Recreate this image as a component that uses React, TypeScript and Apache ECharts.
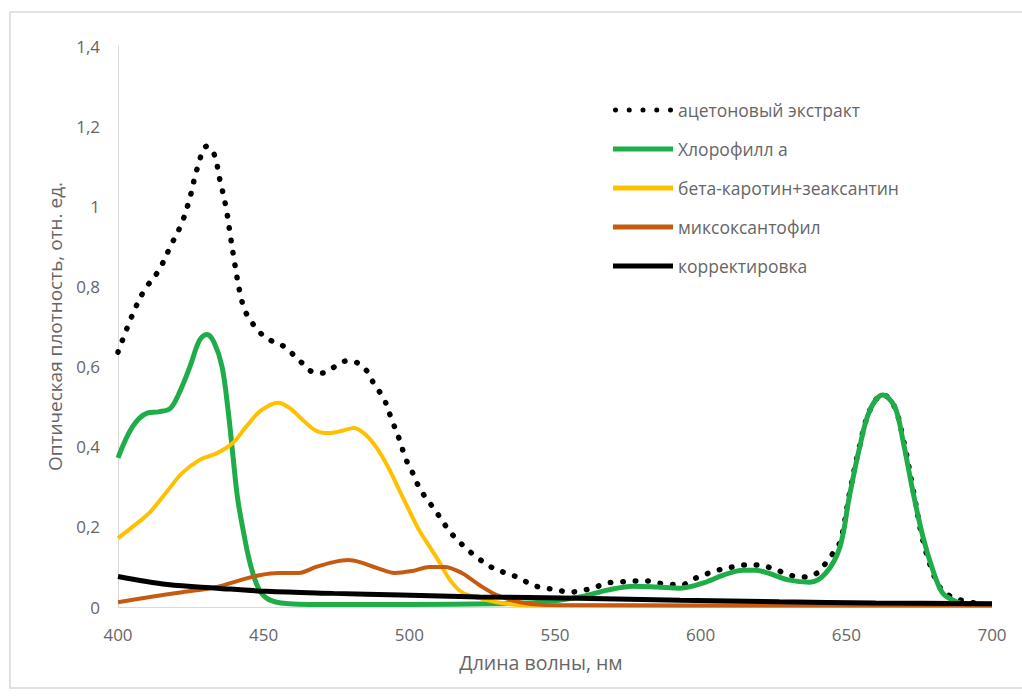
import React, { useEffect, useRef } from "react";
import * as echarts from "echarts";

const seriesNames = [
  "ацетоновый экстракт",
  "Хлорофилл а",
  "бета-каротин+зеаксантин",
  "миксоксантофил",
  "корректировка",
];

const xTitle = "Длина волны, нм";
const yTitle = "Оптическая плотность, отн. ед.";

const extractX = [400, 405, 409, 414, 418, 422, 425, 427, 430.5, 433, 435, 437, 438.5, 440, 442, 444, 449, 453, 457, 463, 467, 470, 474.5, 478.5, 482, 486, 488, 491, 494, 497, 498.5, 501, 503, 505.5, 508, 510.5, 513, 515.5, 519, 523, 528, 533, 538, 542, 547, 551, 555, 560, 564, 568, 572, 577, 581.5, 585, 589, 593.5, 597, 601, 606, 611, 614.5, 619, 623, 628, 632, 636, 640, 643, 645.5, 648, 651, 654.5, 658, 662.5, 666.5, 669.5, 673, 676, 679, 682, 685, 688, 691, 694];
const extractY = [0.636, 0.73, 0.79, 0.84, 0.9, 0.96, 1.03, 1.09, 1.15, 1.13, 1.065, 1.0, 0.93, 0.86, 0.78, 0.733, 0.683, 0.663, 0.65, 0.61, 0.586, 0.584, 0.6, 0.614, 0.61, 0.584, 0.554, 0.524, 0.467, 0.41, 0.374, 0.337, 0.304, 0.274, 0.25, 0.224, 0.197, 0.175, 0.15, 0.125, 0.1, 0.085, 0.072, 0.055, 0.047, 0.042, 0.037, 0.042, 0.05, 0.06, 0.062, 0.065, 0.065, 0.06, 0.057, 0.055, 0.068, 0.08, 0.092, 0.1, 0.105, 0.105, 0.1, 0.087, 0.077, 0.075, 0.085, 0.11, 0.135, 0.165, 0.28, 0.4, 0.49, 0.53, 0.5, 0.42, 0.29, 0.175, 0.1, 0.05, 0.03, 0.02, 0.014, 0.01];

const chlX = [400, 405, 410, 414, 418, 421, 424.7, 428, 430.5, 433, 435.7, 437.8, 439.5, 441, 443, 445.3, 448, 451, 456, 470, 500, 530, 545, 558.5, 568, 577, 585, 593, 601, 608, 614.5, 619, 623, 630.5, 637.5, 643, 647.8, 651, 654.6, 658, 662.5, 666.6, 669.4, 672.8, 676.3, 679.7, 683, 686.6, 690, 695, 700];
const chlY = [0.372, 0.45, 0.484, 0.487, 0.496, 0.534, 0.6, 0.666, 0.68, 0.66, 0.6, 0.49, 0.374, 0.274, 0.19, 0.11, 0.05, 0.022, 0.01, 0.006, 0.006, 0.008, 0.012, 0.025, 0.042, 0.052, 0.05, 0.047, 0.06, 0.08, 0.092, 0.092, 0.085, 0.067, 0.062, 0.085, 0.15, 0.274, 0.4, 0.49, 0.529, 0.5, 0.417, 0.29, 0.175, 0.092, 0.035, 0.017, 0.008, 0.005, 0.005];

const carX = [400, 405, 411, 417, 422, 428, 434, 439.5, 444, 449, 455, 459, 463.5, 468, 472.5, 477, 481, 485, 489, 493, 497, 500, 503.5, 507, 510.5, 514, 518, 524, 530, 538, 560, 700];
const carY = [0.172, 0.2, 0.237, 0.29, 0.334, 0.367, 0.384, 0.41, 0.45, 0.49, 0.51, 0.496, 0.466, 0.44, 0.434, 0.44, 0.447, 0.43, 0.395, 0.345, 0.285, 0.24, 0.19, 0.15, 0.11, 0.067, 0.037, 0.022, 0.012, 0.005, 0.003, 0.003];

const myxX = [400, 411, 422, 434, 442, 449, 455, 462, 468, 474, 479, 483, 489, 495, 501, 507, 512, 518, 524, 530, 538, 547, 600, 700];
const myxY = [0.012, 0.025, 0.037, 0.05, 0.067, 0.08, 0.085, 0.085, 0.1, 0.112, 0.117, 0.112, 0.097, 0.085, 0.09, 0.1, 0.1, 0.085, 0.055, 0.03, 0.012, 0.005, 0.004, 0.004];

const corrX = [400, 417, 434, 451, 474, 497, 524, 558, 593, 627, 660, 700];
const corrY = [0.076, 0.056, 0.047, 0.039, 0.034, 0.03, 0.025, 0.022, 0.017, 0.013, 0.01, 0.008];

const xTicks = [400, 450, 500, 550, 600, 650, 700];
const yTickLabels = ["0", "0,2", "0,4", "0,6", "0,8", "1", "1,2", "1,4"];

const pairs = (xs: number[], ys: number[]) => xs.map((x, i) => [x, ys[i]]);

const dot = (cx: number) => `M${cx - 2.5},2.5a2.5,2.5 0 1,0 5,0a2.5,2.5 0 1,0 -5,0Z`;
const DOTS_ICON = "path://" + [2.5, 16.25, 30, 43.75, 57.5].map(dot).join("");
const BAR_ICON = "path://M0,0H60V5H0Z";

const FONT = "'Open Sans', sans-serif";
const GREY = "#666666";

export default function App() {
  const ref = useRef<HTMLDivElement>(null);
  useEffect(() => {
    if (!ref.current) return;
    const chart = echarts.init(ref.current, null, { renderer: "svg" });
    const base = { type: "line", symbol: "none", smooth: 0.35 } as any;
    chart.setOption({
      animation: false,
      backgroundColor: "#ffffff",
      textStyle: { fontFamily: FONT },
      graphic: [
        {
          type: "rect",
          shape: { x: 10, y: 12, width: 1030, height: 676 },
          style: { fill: "none", stroke: "#d9d9d9", lineWidth: 1.5 },
          silent: true,
        },
      ],
      grid: { left: 118, right: 30, top: 46, bottom: 91, containLabel: false },
      legend: {
        orient: "vertical",
        left: 613,
        top: 100,
        padding: 0,
        itemWidth: 60,
        itemHeight: 20,
        itemGap: 19,
        symbolKeepAspect: true,
        textStyle: { color: GREY, fontSize: 17.5, lineHeight: 20, fontFamily: FONT },
        data: seriesNames.map((n, i) => ({ name: n, icon: i === 0 ? DOTS_ICON : BAR_ICON })),
      },
      xAxis: {
        type: "value",
        min: 400,
        max: 700,
        interval: 50,
        name: xTitle,
        nameLocation: "middle",
        nameGap: 45,
        nameTextStyle: { color: GREY, fontSize: 19.5, fontFamily: FONT, padding: [0, 28, 0, 0] },
        axisLine: { show: true, lineStyle: { color: "#d9d9d9", width: 1 } },
        axisTick: { show: false },
        splitLine: { show: false },
        axisLabel: {
          color: GREY,
          fontSize: 17,
          margin: 19,
          fontFamily: FONT,
          formatter: (v: number) => (xTicks.includes(v) ? String(v) : ""),
        },
      },
      yAxis: {
        type: "value",
        min: 0,
        max: 1.4,
        interval: 0.2,
        name: yTitle,
        nameLocation: "middle",
        nameGap: 54,
        nameTextStyle: { color: GREY, fontSize: 19, fontFamily: FONT },
        axisLine: { show: true, lineStyle: { color: "#d9d9d9", width: 1 } },
        axisTick: { show: false },
        splitLine: { show: false },
        axisLabel: {
          color: GREY,
          fontSize: 17,
          margin: 18,
          fontFamily: FONT,
          formatter: (v: number) => yTickLabels[Math.round(v / 0.2)] ?? "",
        },
      },
      series: [
        {
          ...base,
          name: seriesNames[0],
          data: pairs(extractX, extractY),
          lineStyle: { color: "#000000", width: 5.5, type: [0.5, 12], cap: "round" },
          itemStyle: { color: "#000000" },
        },
        {
          ...base,
          name: seriesNames[1],
          data: pairs(chlX, chlY),
          lineStyle: { color: "#1ead48", width: 5 },
          itemStyle: { color: "#1ead48" },
        },
        {
          ...base,
          name: seriesNames[2],
          data: pairs(carX, carY),
          lineStyle: { color: "#ffc000", width: 4 },
          itemStyle: { color: "#ffc000" },
        },
        {
          ...base,
          name: seriesNames[3],
          data: pairs(myxX, myxY),
          lineStyle: { color: "#c55a11", width: 4 },
          itemStyle: { color: "#c55a11" },
        },
        {
          ...base,
          name: seriesNames[4],
          data: pairs(corrX, corrY),
          lineStyle: { color: "#000000", width: 5 },
          itemStyle: { color: "#000000" },
        },
      ],
    });
    return () => chart.dispose();
  }, []);
  return (
    <div
      ref={ref}
      style={{ position: "absolute", left: 0, top: 0, width: 1022, height: 698 }}
    />
  );
}
